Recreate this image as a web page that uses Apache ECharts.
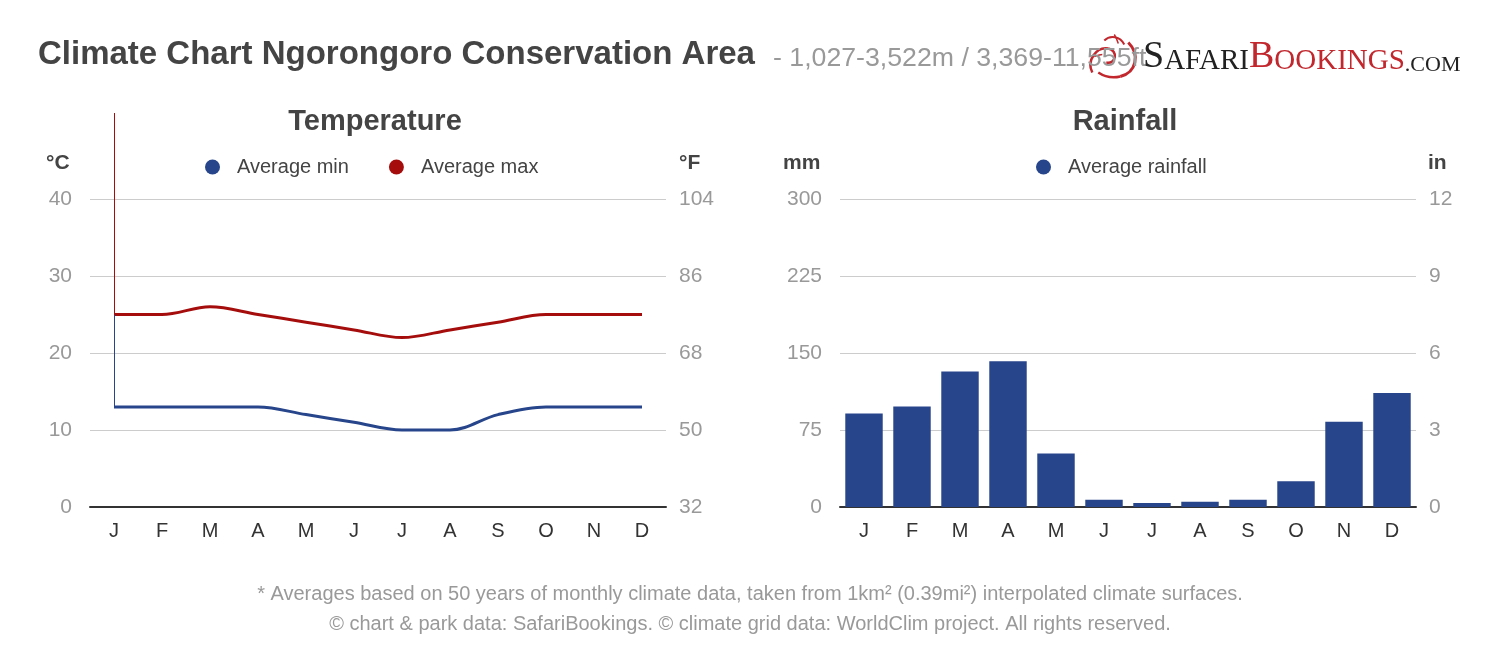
<!DOCTYPE html>
<html>
<head>
<meta charset="utf-8">
<script src="https://cdn.jsdelivr.net/npm/echarts@6/dist/echarts.min.js"></script>
<style>
html,body{margin:0;padding:0;background:#fff;}
#chart{width:1500px;height:652px;}
</style>
</head>
<body>
<div id="chart"></div>
<script>
var months = ['J','F','M','A','M','J','J','A','S','O','N','D'];
var avgMin = [13, 13, 13, 13, 12, 11, 10, 10, 12, 13, 13, 13];
var avgMax = [25, 25, 26, 25, 24, 23, 22, 23, 24, 25, 25, 25];
var rainfall = [91, 98, 132, 142, 52, 7, 4, 5, 7, 25, 83, 111];
var celsiusTicks = [0, 40, 10];
var fahrenheitTicks = [32, 104, 18];
var mmTicks = [0, 300, 75];
var inchTicks = [0, 12, 3];

var BLUE = '#27458b', RED = '#a50d0d';
var FONT = '"Liberation Sans", Arial, sans-serif';
var SERIF = '"Liberation Serif", "DejaVu Serif", serif';

var chart = echarts.init(document.getElementById('chart'));

function xAx(gi){
  return {
    type:'category', gridIndex:gi, data:months, boundaryGap:true,
    axisLine:{show:true, lineStyle:{color:'#333', width:2}},
    axisTick:{show:false},
    axisLabel:{color:'#333', fontSize:20, fontFamily:FONT, margin:14},
    splitLine:{show:false}
  };
}
function yAx(gi, t, pos, showSplit){
  return {
    type:'value', gridIndex:gi, position:pos, min:t[0], max:t[1], interval:t[2],
    axisLine:{show:false}, axisTick:{show:false},
    axisLabel:{color:'#999', fontSize:21, fontFamily:FONT, margin: pos==='left'?18:13},
    splitLine:{show:showSplit, lineStyle:{color:'#cccccc', width:1}}
  };
}
function lbl(x, y, t){
  return {type:'text', left:x, top:y, style:{text:t, fill:'#444', font:'bold 21px '+FONT}};
}
function curve(x1,y1,c1x,c1y,c2x,c2y,x2,y2,w){
  return {type:'bezierCurve', shape:{x1:x1,y1:y1,cpx1:c1x,cpy1:c1y,cpx2:c2x,cpy2:c2y,x2:x2,y2:y2},
          style:{stroke:'#c1272d', lineWidth:w, fill:null}};
}

var option = {
  animation:false,
  backgroundColor:'#fff',
  textStyle:{fontFamily:FONT},
  title:[
    {left:33, top:33, text:'Climate Chart Ngorongoro Conservation Area',
     textStyle:{fontSize:33, fontWeight:'bold', color:'#444', fontFamily:FONT}},
    {left:768, top:40, text:'- 1,027-3,522m / 3,369-11,555ft',
     textStyle:{fontSize:26.7, fontWeight:'normal', color:'#999', fontFamily:FONT}},
    {left:1138, top:33, text:'{s|S}{t|AFARI}{r|B}{rs|OOKINGS}{c|.COM}',
     textStyle:{fontWeight:'normal', rich:{
       s:{fontSize:38, color:'#222', fontFamily:SERIF, verticalAlign:'bottom'},
       t:{fontSize:29, color:'#222', fontFamily:SERIF, verticalAlign:'bottom'},
       r:{fontSize:38, color:'#c1272d', fontFamily:SERIF, verticalAlign:'bottom'},
       rs:{fontSize:29, color:'#c1272d', fontFamily:SERIF, verticalAlign:'bottom'},
       c:{fontSize:22, color:'#222', fontFamily:SERIF, verticalAlign:'bottom'}
     }}},
    {left:370, top:102, textAlign:'center', text:'Temperature',
     textStyle:{fontSize:29, fontWeight:'bold', color:'#444', fontFamily:FONT}},
    {left:1120, top:102, textAlign:'center', text:'Rainfall',
     textStyle:{fontSize:29, fontWeight:'bold', color:'#444', fontFamily:FONT}},
    {left:745, top:579, textAlign:'center', text:'* Averages based on 50 years of monthly climate data, taken from 1km² (0.39mi²) interpolated climate surfaces.',
     textStyle:{fontSize:20, fontWeight:'normal', color:'#999', fontFamily:FONT}},
    {left:745, top:609, textAlign:'center', text:'© chart & park data: SafariBookings. © climate grid data: WorldClim project. All rights reserved.',
     textStyle:{fontSize:20, fontWeight:'normal', color:'#999', fontFamily:FONT}}
  ],
  legend:[
    {left:200, top:152, icon:'circle', itemWidth:15, itemHeight:15, itemGap:40,
     data:['Average min','Average max'],
     textStyle:{fontSize:20, color:'#444', fontFamily:FONT, padding:[0,0,0,12]}},
    {left:1031, top:152, icon:'circle', itemWidth:15, itemHeight:15,
     data:['Average rainfall'],
     textStyle:{fontSize:20, color:'#444', fontFamily:FONT, padding:[0,0,0,12]}}
  ],
  graphic:[
    lbl(46, 153, '°C'), lbl(679, 153, '°F'), lbl(783, 153, 'mm'), lbl(1428, 153, 'in'),
    {type:'group', left:1088, top:32, children:[
      curve(8,40, 2,28, 12,14, 24,16, 2.5),
      curve(24,16, 34,18, 32,32, 22,30, 2.5),
      curve(20,8, 26,2, 36,4, 40,12, 2),
      curve(44,10, 56,22, 52,40, 36,44, 3),
      curve(36,44, 28,46, 20,44, 14,40, 2.5),
      curve(30,2, 32,5, 33,8, 34,11, 1.5),
      curve(10,24, 13,23, 16,22, 18,22, 1.5)
    ]}
  ],
  grid:[
    {left:90, top:199, width:576, height:308},
    {left:840, top:199, width:576, height:308}
  ],
  xAxis:[xAx(0), xAx(1)],
  yAxis:[
    yAx(0, celsiusTicks, 'left', true),
    yAx(0, fahrenheitTicks, 'right', false),
    yAx(1, mmTicks, 'left', true),
    yAx(1, inchTicks, 'right', false)
  ],
  series:[
    {name:'Average min', type:'line', xAxisIndex:0, yAxisIndex:0, data:avgMin, smooth:0.35, clip:false,
     showSymbol:false, symbol:'circle', itemStyle:{color:BLUE}, lineStyle:{color:BLUE, width:3},
     markLine:{silent:true, symbol:'none', label:{show:false}, lineStyle:{color:BLUE, width:1, type:'solid'},
       data:[[{coord:[0, avgMin[0]]},{coord:[0, avgMax[0]]}]]}},
    {name:'Average max', type:'line', xAxisIndex:0, yAxisIndex:0, data:avgMax, smooth:0.35, clip:false,
     showSymbol:false, symbol:'circle', itemStyle:{color:RED}, lineStyle:{color:RED, width:3}},
    {name:'Average rainfall', type:'bar', xAxisIndex:1, yAxisIndex:2, data:rainfall,
     barCategoryGap:'22%', itemStyle:{color:BLUE}}
  ]
};
chart.setOption(option);

// vertical red stroke above the first max point (as in the reference), from the library's scale
var p0 = chart.convertToPixel({xAxisIndex:0, yAxisIndex:0}, [0, avgMax[0]]);
chart.setOption({series:[{}, {
  markLine:{silent:true, symbol:'none', label:{show:false}, lineStyle:{color:RED, width:1, type:'solid'},
    data:[[{x:p0[0], y:p0[1]}, {x:p0[0], y:113}]]}
}]});
</script>
</body>
</html>
